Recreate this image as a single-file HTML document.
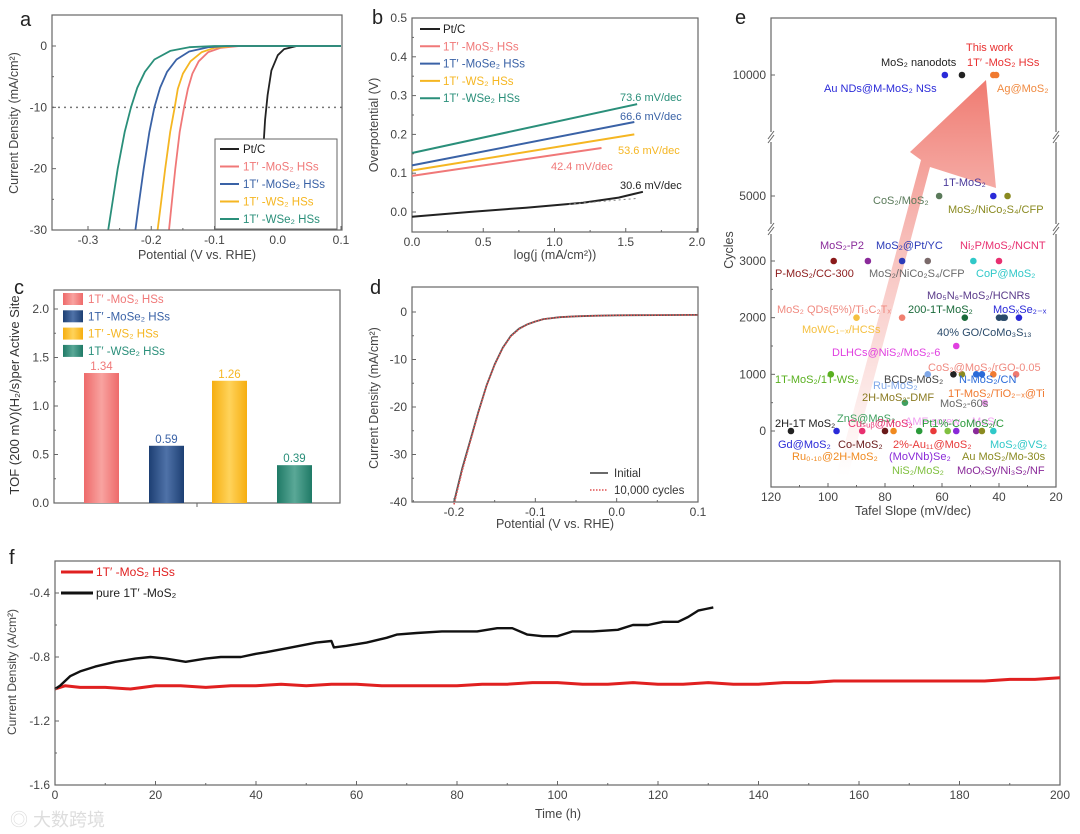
<!DOCTYPE html>
<html><head><meta charset="utf-8">
<style>
html,body{margin:0;padding:0;background:#fff;}
svg{display:block;font-family:"Liberation Sans","Noto Sans CJK SC",sans-serif;}
</style></head>
<body>
<svg id="fig" width="1080" height="834" viewBox="0 0 1080 834" xmlns="http://www.w3.org/2000/svg">
<defs>
<linearGradient id="gPink" x1="0" x2="1"><stop offset="0" stop-color="#ee6a6a"/><stop offset="0.5" stop-color="#f8a3a0"/><stop offset="1" stop-color="#ee6a6a"/></linearGradient>
<linearGradient id="gNavy" x1="0" x2="1"><stop offset="0" stop-color="#1d3f73"/><stop offset="0.5" stop-color="#4f72a8"/><stop offset="1" stop-color="#1d3f73"/></linearGradient>
<linearGradient id="gYel" x1="0" x2="1"><stop offset="0" stop-color="#f6ae10"/><stop offset="0.5" stop-color="#ffd35a"/><stop offset="1" stop-color="#f6ae10"/></linearGradient>
<linearGradient id="gTeal" x1="0" x2="1"><stop offset="0" stop-color="#1f7a66"/><stop offset="0.5" stop-color="#5aa897"/><stop offset="1" stop-color="#1f7a66"/></linearGradient>
<linearGradient id="gArrow" x1="0" y1="1" x2="0" y2="0"><stop offset="0" stop-color="#f4a6a0" stop-opacity="0"/><stop offset="0.5" stop-color="#f4a6a0" stop-opacity="0.6"/><stop offset="1" stop-color="#ee6b60" stop-opacity="0.9"/></linearGradient>
</defs>
</svg>
<script>
// ---------- data ----------
// panel a (LSV)
const aPt_x=[0.1,0.03,0.01,0.0,-0.01,-0.016,-0.02,-0.023,-0.026,-0.03];
const aPt_y=[0,0,-0.5,-1.5,-4,-8,-12,-17,-23,-30];
const aMoS2_x=[0.1,-0.06,-0.09,-0.11,-0.125,-0.135,-0.142,-0.148,-0.155,-0.162,-0.168,-0.172];
const aMoS2_y=[0,0,-0.3,-1,-2.5,-4.5,-7,-10,-14,-20,-26,-30];
const aWS2_x=[0.1,-0.07,-0.1,-0.12,-0.138,-0.15,-0.158,-0.163,-0.17,-0.178,-0.185,-0.19];
const aWS2_y=[0,0,-0.3,-1,-2.5,-4.5,-7,-10,-14,-20,-26,-30];
const aMoSe2_x=[0.1,-0.08,-0.11,-0.14,-0.16,-0.175,-0.186,-0.195,-0.203,-0.212,-0.22,-0.225];
const aMoSe2_y=[0,0,-0.2,-0.9,-2.2,-4.2,-6.8,-10,-14,-20,-26,-30];
const aWSe2_x=[0.1,-0.1,-0.14,-0.17,-0.195,-0.21,-0.222,-0.232,-0.242,-0.253,-0.262,-0.268];
const aWSe2_y=[0,0,-0.2,-0.8,-2.2,-4.2,-6.8,-10,-14,-20,-26,-30];
// panel b (Tafel)
const bPt_x=[0,0.4,0.8,1.2,1.45,1.62];
const bPt_y=[-0.012,0.0,0.011,0.024,0.037,0.052];
const bMoS2_x=[0,1.33], bMoS2_y=[0.093,0.165];
const bWS2_x=[0,1.56], bWS2_y=[0.107,0.2];
const bMoSe2_x=[0,1.56], bMoSe2_y=[0.12,0.232];
const bWSe2_x=[0,1.58], bWSe2_y=[0.152,0.278];
// panel c (TOF)
const cCats=["1T′-MoS₂ HSs","1T′-MoSe₂ HSs","1T′-WS₂ HSs","1T′-WSe₂ HSs"];
const cVals=[1.34,0.59,1.26,0.39];
const cLabels=["1.34","0.59","1.26","0.39"];
// panel d
const dPot=[-0.2,-0.19,-0.18,-0.17,-0.16,-0.15,-0.14,-0.13,-0.12,-0.11,-0.1,-0.09,-0.07,-0.05,-0.03,0.0,0.05,0.1];
const dInit=[-40,-33,-27,-21,-15.5,-11,-7.5,-5,-3.5,-2.6,-2,-1.5,-1.1,-0.9,-0.8,-0.7,-0.65,-0.6];
const dAfter=[-40.5,-33.5,-27.3,-21.2,-15.6,-11.1,-7.6,-5.1,-3.6,-2.6,-2,-1.5,-1.1,-0.9,-0.8,-0.7,-0.65,-0.6];
// panel e (Tafel slope vs cycles)
const eTafel=[59,53,42,41, 61,42,37, 98,86,74,65,49,40, 90,74,52,40,38.6,38,33, 55, 99,65,56,53,48,46,42,34, 73,45, 113,97,88,80,77,68,63,58,55,48,46,42];
const eCycles=[10000,10000,10000,10000, 5000,5000,5000, 3000,3000,3000,3000,3000,3000, 2000,2000,2000,2000,2000,2000,2000, 1500, 1000,1000,1000,1000,1000,1000,1000,1000, 500,500, 0,0,0,0,0,0,0,0,0,0,0,0];
const eColors=["#2a2ad8","#222","#f07a30","#f07a30","#5a7a5a","#2a2ad8","#8a8a20","#8b1a1a","#8a2a9a","#2a3ab8","#7a6a6a","#30c8c8","#e83070","#f5c040","#f08070","#1a6a3a","#2a4a6a","#2a4a6a","#2a4a6a","#2a2ad8","#e040e0","#5ab020","#80a8e8","#222","#8a8a20","#2a6ad8","#2a6ad8","#f07a30","#f07a70","#40a060","#f0a0f0","#222","#2a2ad8","#e83070","#6a1a1a","#f08a20","#2a9a3a","#e83a3a","#80c040","#8a2ad8","#8a2a9a","#8a8a20","#30c8c8"];
const eTicksY=[0,1000,2000,3000,5000,10000];
const eTicksX=[120,100,80,60,40,20];
// panel f (stability)
const fRed_t=[0,2,5,10,15,20,25,30,35,40,45,50,55,60,65,70,75,80,85,90,95,100,105,110,115,120,125,130,135,140,145,150,155,160,165,170,175,180,185,190,195,200];
const fRed_v=[-1.0,-0.98,-0.99,-0.99,-1.0,-0.98,-0.98,-0.99,-0.98,-0.98,-0.97,-0.98,-0.97,-0.97,-0.98,-0.98,-0.98,-0.98,-0.97,-0.97,-0.96,-0.96,-0.97,-0.97,-0.96,-0.97,-0.97,-0.96,-0.97,-0.97,-0.96,-0.96,-0.95,-0.95,-0.95,-0.95,-0.95,-0.95,-0.95,-0.94,-0.94,-0.93];
const fBlk_t=[0,1,3,5,8,12,16,19,22,26,30,33,37,40,42,47,52,55,55.5,58,62,66,68,72,77,80,84,88,91,94,97,100,103,107,112,115,118,121,124,126,128,129.5,131];
const fBlk_v=[-1.0,-0.98,-0.92,-0.89,-0.86,-0.83,-0.81,-0.8,-0.81,-0.83,-0.81,-0.8,-0.8,-0.78,-0.77,-0.74,-0.71,-0.7,-0.74,-0.73,-0.71,-0.68,-0.66,-0.65,-0.64,-0.64,-0.64,-0.62,-0.62,-0.66,-0.67,-0.67,-0.64,-0.64,-0.63,-0.6,-0.6,-0.58,-0.58,-0.55,-0.51,-0.5,-0.49];
const fTicksX=[0,20,40,60,80,100,120,140,160,180,200];
const fTicksY=[-0.4,-0.8,-1.2,-1.6];

// ---------- helpers ----------
const NS='http://www.w3.org/2000/svg';
const svg=document.getElementById('fig');
function mk(tag,attrs,name,parent){
  const el=document.createElementNS(NS,tag);
  for(const k in attrs) el.setAttribute(k,attrs[k]);
  
  
  (parent||svg).appendChild(el);
  return el;
}
function txt(x,y,s,name,o){
  o=o||{};
  const t=mk('text',{x:x,y:y,'font-size':o.size||12,fill:o.fill||'#333','text-anchor':o.anchor||'start'},name);
  if(o.weight) t.setAttribute('font-weight',o.weight);
  if(o.rot) t.setAttribute('transform','rotate(-90 '+x+' '+y+')');
  if(o.style) t.setAttribute('font-style',o.style);
  t.textContent=s;
  return t;
}
function lin(d0,d1,r0,r1){return v=>r0+(v-d0)*(r1-r0)/(d1-d0);}
function frame(x0,y0,x1,y1,name){mk('rect',{x:x0,y:y0,width:x1-x0,height:y1-y0,fill:'none',stroke:'#666','stroke-width':1.2},name);}
function path(xs,ys,sx,sy,st,name){
  let d='';
  for(let i=0;i<xs.length;i++) d+=(i?'L':'M')+sx(xs[i]).toFixed(1)+','+sy(ys[i]).toFixed(1);
  const p=mk('path',Object.assign({d:d,fill:'none','stroke-linejoin':'round'},st),name);
  return p;
}
function xTicks(vals,sx,yb,labs,name,minor){
  vals.forEach((v,i)=>{
    mk('line',{x1:sx(v),x2:sx(v),y1:yb,y2:yb-4,stroke:'#666'},name+'-tick');
    txt(sx(v),yb+14,labs[i],name+'-label',{anchor:'middle',size:12,fill:'#444'});
  });
  (minor||[]).forEach(v=>mk('line',{x1:sx(v),x2:sx(v),y1:yb,y2:yb-2,stroke:'#666'},name+'-minor-tick'));
}
function yTicks(vals,sy,xl,labs,name,minor){
  vals.forEach((v,i)=>{
    mk('line',{x1:xl,x2:xl+4,y1:sy(v),y2:sy(v),stroke:'#666'},name+'-tick');
    txt(xl-5,sy(v)+4,labs[i],name+'-label',{anchor:'end',size:12,fill:'#444'});
  });
  (minor||[]).forEach(v=>mk('line',{x1:xl,x2:xl+2,y1:sy(v),y2:sy(v),stroke:'#666'},name+'-minor-tick'));
}
const C={pt:'#222',mos2:'#f07878',mose2:'#3a62a6',ws2:'#f5b622',wse2:'#2a8f7a'};

// ---------- panel a ----------
(function(){
  const sx=lin(-0.3,0.1,88,341), sy=lin(0,-30,46,230);
  txt(20,26,'a','panel-a-label',{size:20,fill:'#222'});
  mk('line',{x1:52,x2:342,y1:sy(-10),y2:sy(-10),stroke:'#777','stroke-dasharray':'2,4','stroke-width':1.5},'ref-line-10ma');
  const clip=mk('clipPath',{id:'clipA'},'clip-a');
  mk('rect',{x:52,y:15,width:290,height:215},'clip-a-rect',clip);
  const g=mk('g',{'clip-path':'url(#clipA)'},'panel-a-series');
  [[aPt_x,aPt_y,C.pt,'pt-c'],[aMoS2_x,aMoS2_y,C.mos2,'mos2'],[aWS2_x,aWS2_y,C.ws2,'ws2'],[aMoSe2_x,aMoSe2_y,C.mose2,'mose2'],[aWSe2_x,aWSe2_y,C.wse2,'wse2']].forEach(s=>{
    const p=path(s[0],s[1],sx,sy,{stroke:s[2],'stroke-width':1.8},'lsv-curve-'+s[3]); g.appendChild(p);
  });
  frame(52,15,342,230,'panel-a-frame');
  xTicks([-0.3,-0.2,-0.1,0.0,0.1],sx,230,['-0.3','-0.2','-0.1','0.0','0.1'],'a-x',[-0.25,-0.15,-0.05,0.05]);
  yTicks([0,-10,-20,-30],sy,52,['0','-10','-20','-30'],'a-y',[-5,-15,-25]);
  txt(197,259,'Potential (V vs. RHE)','a-x-axis-title',{anchor:'middle',size:12.5,fill:'#444'});
  txt(18,123,'Current Density (mA/cm²)','a-y-axis-title',{anchor:'middle',size:12.5,fill:'#444',rot:true});
  mk('rect',{x:215,y:139,width:122,height:90,fill:'#fff',stroke:'#666'},'a-legend-box');
  const L=[['Pt/C',C.pt],['1T′ -MoS₂ HSs',C.mos2],['1T′ -MoSe₂ HSs',C.mose2],['1T′ -WS₂ HSs',C.ws2],['1T′ -WSe₂ HSs',C.wse2]];
  L.forEach((l,i)=>{const y=149+i*17.5;
    mk('line',{x1:220,x2:239,y1:y,y2:y,stroke:l[1],'stroke-width':2},'a-legend-swatch');
    txt(243,y+4,l[0],'a-legend-entry',{size:11.5,fill:i?l[1]:'#222'});});
})();

// ---------- panel b ----------
(function(){
  const sx=lin(0,2,412,697), sy=lin(0,0.5,212,18);
  txt(372,24,'b','panel-b-label',{size:20,fill:'#222'});
  frame(412,18,698,232,'panel-b-frame');
  [[bPt_x,bPt_y,C.pt,'pt-c'],[bMoS2_x,bMoS2_y,C.mos2,'mos2'],[bWS2_x,bWS2_y,C.ws2,'ws2'],[bMoSe2_x,bMoSe2_y,C.mose2,'mose2'],[bWSe2_x,bWSe2_y,C.wse2,'wse2']].forEach(s=>{
    path(s[0],s[1],sx,sy,{stroke:s[2],'stroke-width':2},'tafel-line-'+s[3]);
  });
  path([1.1,1.58],[0.02,0.035],sx,sy,{stroke:'#888','stroke-width':1,'stroke-dasharray':'2,3'},'tafel-fit-pt-c');
  xTicks([0,0.5,1,1.5,2],sx,232,['0.0','0.5','1.0','1.5','2.0'],'b-x',[0.25,0.75,1.25,1.75]);
  yTicks([0,0.1,0.2,0.3,0.4,0.5],sy,412,['0.0','0.1','0.2','0.3','0.4','0.5'],'b-y',[0.05,0.15,0.25,0.35,0.45]);
  const tt=txt(555,259,'log(','b-x-axis-title',{anchor:'middle',size:12.5,fill:'#444'});
  tt.textContent='log(j (mA/cm²))';
  txt(378,125,'Overpotential (V)','b-y-axis-title',{anchor:'middle',size:12.5,fill:'#444',rot:true});
  const L=[['Pt/C',C.pt],['1T′ -MoS₂ HSs',C.mos2],['1T′ -MoSe₂ HSs',C.mose2],['1T′ -WS₂ HSs',C.ws2],['1T′ -WSe₂ HSs',C.wse2]];
  L.forEach((l,i)=>{const y=29+i*17.3;
    mk('line',{x1:420,x2:440,y1:y,y2:y,stroke:l[1],'stroke-width':2},'b-legend-swatch');
    txt(443,y+4,l[0],'b-legend-entry',{size:11.5,fill:i?l[1]:'#222'});});
  txt(620,101,'73.6 mV/dec','slope-wse2',{size:11,fill:C.wse2});
  txt(620,120,'66.6 mV/dec','slope-mose2',{size:11,fill:C.mose2});
  txt(618,154,'53.6 mV/dec','slope-ws2',{size:11,fill:C.ws2});
  txt(551,170,'42.4 mV/dec','slope-mos2',{size:11,fill:C.mos2});
  txt(620,189,'30.6 mV/dec','slope-pt-c',{size:11,fill:'#222'});
})();

// ---------- panel c ----------
(function(){
  const sy=lin(0,2,503,309);
  const bx=[84,149,212,277]; // category slot lefts
  const grads=['url(#gPink)','url(#gNavy)','url(#gYel)','url(#gTeal)'];
  const cols=[C.mos2,C.mose2,C.ws2,C.wse2];
  txt(14,294,'c','panel-c-label',{size:20,fill:'#222'});
  frame(54,290,340,503,'panel-c-frame');
  cVals.forEach((v,i)=>{
    mk('rect',{x:bx[i],y:sy(v),width:35,height:503-sy(v),fill:grads[i]},'bar-'+i);
    txt(bx[i]+17.5,sy(v)-3,cLabels[i],'bar-value-label',{anchor:'middle',size:11.5,fill:cols[i]});
  });
  mk('line',{x1:197,x2:197,y1:503,y2:507,stroke:'#666'},'c-x-tick');
  yTicks([0,0.5,1,1.5,2],sy,54,['0.0','0.5','1.0','1.5','2.0'],'c-y',[0.25,0.75,1.25,1.75]);
  txt(19,395,'TOF (200 mV)(H₂/s)per Active Site','c-y-axis-title',{anchor:'middle',size:13,fill:'#333',rot:true});
  cCats.forEach((c,i)=>{const y=299+i*17.3;
    mk('rect',{x:63,y:y-6,width:20,height:12,fill:grads[i]},'c-legend-swatch');
    txt(88,y+4,c.replace('′','′ '),'c-legend-entry',{size:11.5,fill:cols[i]});});
})();

// ---------- panel d ----------
(function(){
  const sx=lin(-0.2,0.1,454,698), sy=lin(0,-40,312,502);
  txt(370,294,'d','panel-d-label',{size:20,fill:'#222'});
  path(dPot,dInit,sx,sy,{stroke:'#555','stroke-width':1.8},'lsv-initial');
  path(dPot,dAfter,sx,sy,{stroke:'#e05050','stroke-width':1.6,'stroke-dasharray':'1.5,1.5'},'lsv-10000-cycles');
  frame(412,287,698,502,'panel-d-frame');
  xTicks([-0.2,-0.1,0,0.1],sx,502,['-0.2','-0.1','0.0','0.1'],'d-x',[-0.25,-0.15,-0.05,0.05]);
  yTicks([0,-10,-20,-30,-40],sy,412,['0','-10','-20','-30','-40'],'d-y',[-5,-15,-25,-35]);
  txt(555,528,'Potential (V vs. RHE)','d-x-axis-title',{anchor:'middle',size:12.5,fill:'#444'});
  txt(378,398,'Current Density (mA/cm²)','d-y-axis-title',{anchor:'middle',size:12.5,fill:'#444',rot:true});
  mk('line',{x1:590,x2:608,y1:473,y2:473,stroke:'#555','stroke-width':1.8},'d-legend-initial-swatch');
  txt(614,477,'Initial','d-legend-initial',{size:11.5,fill:'#333'});
  mk('line',{x1:590,x2:608,y1:490,y2:490,stroke:'#e05050','stroke-width':1.6,'stroke-dasharray':'1.5,1.5'},'d-legend-cycles-swatch');
  txt(614,494,'10,000 cycles','d-legend-cycles',{size:11.5,fill:'#333'});
})();

// ---------- panel e ----------
(function(){
  const sx=lin(120,20,771,1056);
  function sy(c){
    if(c<=3000) return 431-c*0.05667;
    if(c<=5000) return 261-(c-3000)*0.0325;
    return 196-(c-5000)*0.0242;
  }
  txt(735,24,'e','panel-e-label',{size:20,fill:'#222'});
  // arrow
  mk('polygon',{points:'836,476 848,476 930,167 996,188 986,80 910,152 921,160',fill:'url(#gArrow)'},'trend-arrow');
  frame(771,18,1056,487,'panel-e-frame');
  // axis breaks
  [137,229].forEach(y=>{
    mk('rect',{x:766,y:y-5,width:10,height:10,fill:'#fff'},'axis-break-gap');
    mk('rect',{x:1051,y:y-5,width:10,height:10,fill:'#fff'},'axis-break-gap');
    mk('line',{x1:768,x2:774,y1:y+2,y2:y-6,stroke:'#666'},'axis-break-mark');
    mk('line',{x1:768,x2:774,y1:y+6,y2:y-2,stroke:'#666'},'axis-break-mark');
    mk('line',{x1:1053,x2:1059,y1:y+2,y2:y-6,stroke:'#666'},'axis-break-mark');
    mk('line',{x1:1053,x2:1059,y1:y+6,y2:y-2,stroke:'#666'},'axis-break-mark');
  });
  eTafel.forEach((t,i)=>{
    mk('circle',{cx:sx(t),cy:sy(eCycles[i]),r:3.3,fill:eColors[i]},'literature-point');
  });
  xTicks(eTicksX,sx,487,eTicksX.map(String),'e-x',[110,90,70,50,30]);
  yTicks(eTicksY,sy,771,eTicksY.map(String),'e-y',[500,1500,2500]);
  txt(913,515,'Tafel Slope (mV/dec)','e-x-axis-title',{anchor:'middle',size:12.5,fill:'#444'});
  txt(733,250,'Cycles','e-y-axis-title',{anchor:'middle',size:12.5,fill:'#444',rot:true});
  const labs=[
    ['This work',966,51,'#e83030'],['MoS₂ nanodots',881,66,'#222'],['1T′ -MoS₂ HSs',967,66,'#e83030'],
    ['Au NDs@M-MoS₂ NSs',824,92,'#2a2ad8'],['Ag@MoS₂',997,92,'#f08a40'],
    ['1T-MoS₂',943,186,'#4a3a9a'],['CoS₂/MoS₂',873,204,'#5a7a5a'],['MoS₂/NiCo₂S₄/CFP',948,213,'#8a8a20'],
    ['MoS₂-P2',820,249,'#8a2a9a'],['MoS₂@Pt/YC',876,249,'#2a3ab8'],['Ni₂P/MoS₂/NCNT',960,249,'#e83070'],
    ['P-MoS₂/CC-300',775,277,'#8b1a1a'],['MoS₂/NiCo₂S₄/CFP',869,277,'#6a6a6a'],['CoP@MoS₂',976,277,'#30c8c8'],
    ['Mo₅N₆-MoS₂/HCNRs',927,299,'#5a3a8a'],['MoS₂ QDs(5%)/Ti₃C₂Tₓ',777,313,'#f08a80'],['200-1T-MoS₂',908,313,'#1a6a3a'],['MoSₓSe₂₋ₓ',993,313,'#2a2ad8'],
    ['MoWC₁₋ₓ/HCSs',802,333,'#f5c040'],['40% GO/CoMo₃S₁₃',937,336,'#2a4a6a'],
    ['DLHCs@NiS₂/MoS₂-6',832,356,'#e040e0'],['CoS₂@MoS₂/rGO-0.05',928,371,'#f08a80'],
    ['1T-MoS₂/1T-WS₂',775,383,'#5ab020'],['BCDs-MoS₂',884,383,'#444'],['N-MoS₂/CN',959,383,'#2a6ad8'],
    ['Ru-MoS₂',873,389,'#80a8e8'],['1T-MoS₂/TiO₂₋ₓ@Ti',948,397,'#f07a30'],['2H-MoS₂-DMF',862,401,'#8a7a20'],['MoS₂-60s',940,407,'#666'],
    ['ZnS@MoS₂',837,422,'#40a060'],['AMF screw',905,425,'#f0a0f0'],['MoS₂',972,425,'#f0a0f0'],
    ['2H-1T MoS₂',775,427,'#222'],['Cuₛᵤᵦ@MoS₂',848,427,'#e83070'],['Pt1%-CoMoS₂/C',922,427,'#2a9a3a'],
    ['Gd@MoS₂',778,448,'#2a2ad8'],['Co-MoS₂',838,448,'#6a1a1a'],['2%-Au₁₁@MoS₂',893,448,'#e83a3a'],['MoS₂@VS₂',990,448,'#30c8c8'],
    ['Ru₀.₁₀@2H-MoS₂',792,460,'#f08a20'],['(MoVNb)Se₂',889,460,'#8a2ad8'],['Au MoS₂/Mo-30s',962,460,'#8a8a20'],
    ['NiS₂/MoS₂',892,474,'#80c040'],['MoOₓSy/Ni₃S₂/NF',957,474,'#8a2a9a']
  ];
  labs.forEach(l=>txt(l[1],l[2],l[0],'point-annotation',{size:11,fill:l[3]}));
})();

// ---------- panel f ----------
(function(){
  const sx=lin(0,200,55,1060), sy=lin(-0.4,-1.6,593,785);
  txt(9,564,'f','panel-f-label',{size:20,fill:'#222'});
  frame(55,561,1060,785,'panel-f-frame');
  path(fRed_t,fRed_v,sx,sy,{stroke:'#e02020','stroke-width':3},'stability-red-1t-mos2-hss');
  path(fBlk_t,fBlk_v,sx,sy,{stroke:'#111','stroke-width':2.4},'stability-black-pure-1t-mos2');
  xTicks(fTicksX,sx,785,fTicksX.map(String),'f-x',[10,30,50,70,90,110,130,150,170,190]);
  yTicks(fTicksY,sy,55,fTicksY.map(v=>v.toFixed(1)),'f-y',[-0.6,-1.0,-1.4]);
  txt(558,818,'Time (h)','f-x-axis-title',{anchor:'middle',size:12.5,fill:'#444'});
  txt(16,672,'Current Density (A/cm²)','f-y-axis-title',{anchor:'middle',size:12,fill:'#444',rot:true});
  mk('line',{x1:61,x2:93,y1:572,y2:572,stroke:'#e02020','stroke-width':3},'f-legend-red-swatch');
  txt(96,576,'1T′ -MoS₂ HSs','f-legend-red',{size:12,fill:'#e02020'});
  mk('line',{x1:61,x2:93,y1:593,y2:593,stroke:'#111','stroke-width':3},'f-legend-black-swatch');
  txt(96,597,'pure 1T′ -MoS₂','f-legend-black',{size:12,fill:'#222'});
  txt(10,826,'◎ 大数跨境','watermark',{size:18,fill:'#ddd'});
})();
</script>
</body></html>
